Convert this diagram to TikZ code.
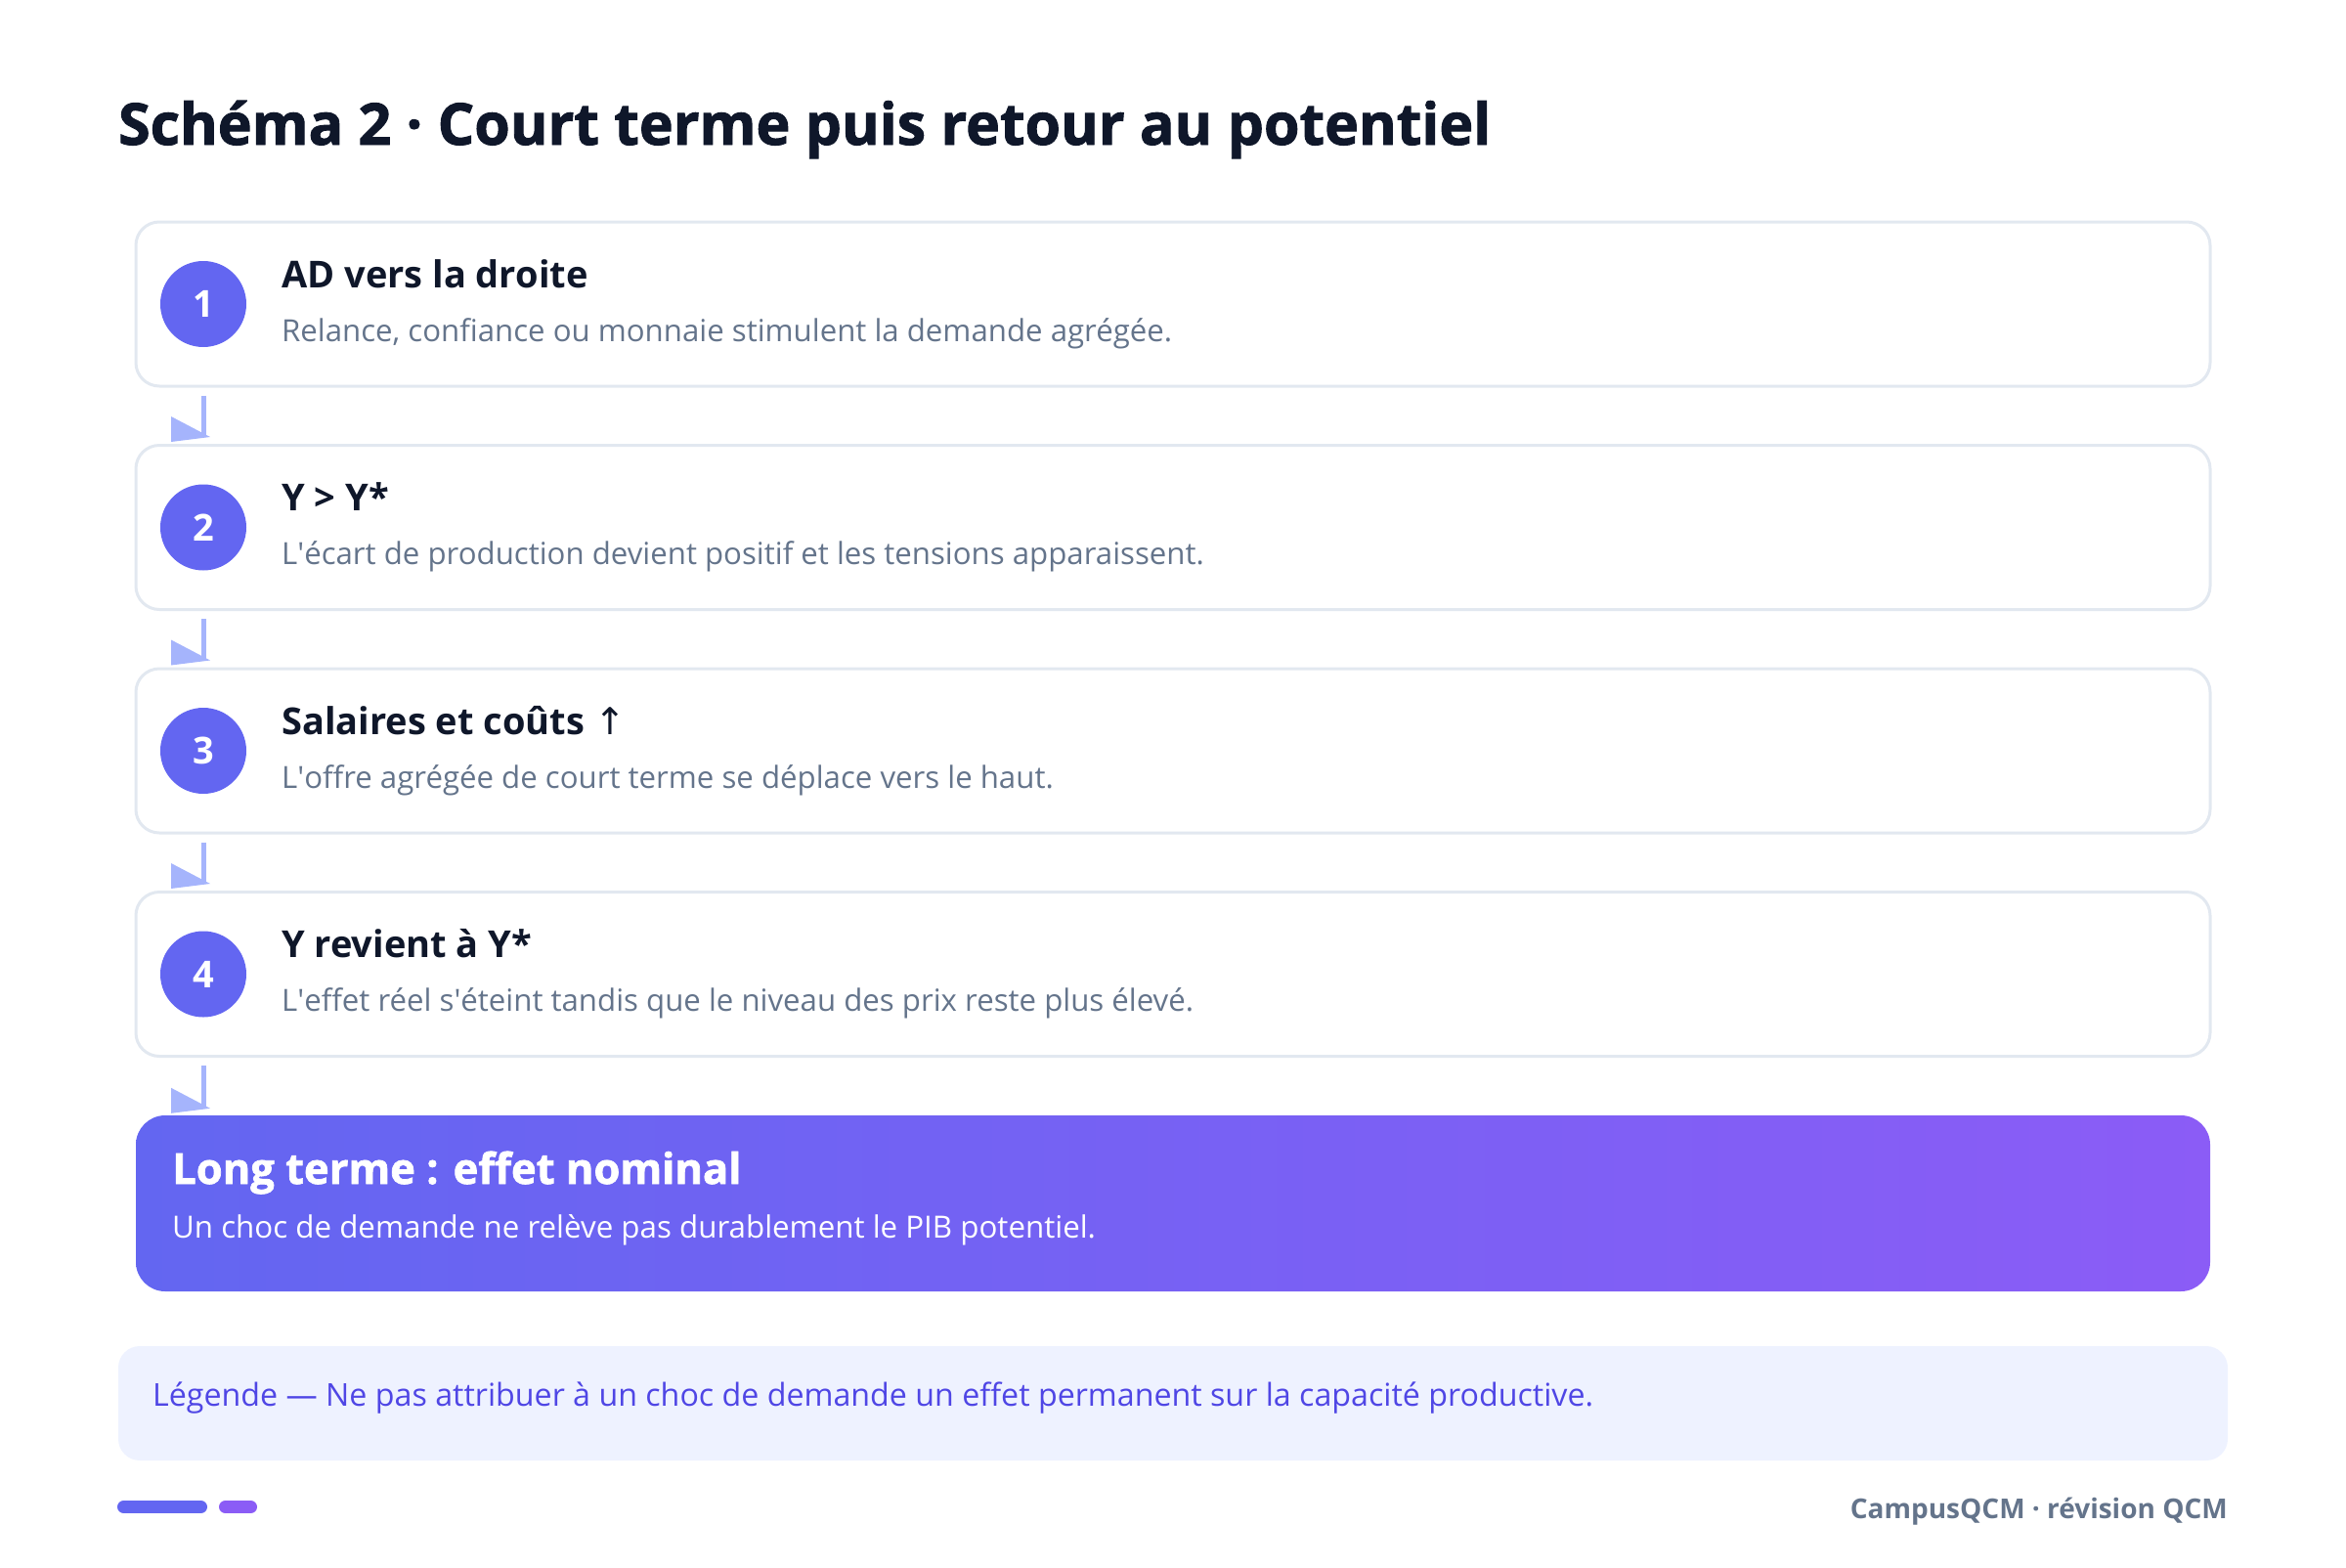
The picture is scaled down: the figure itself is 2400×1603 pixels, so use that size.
\documentclass[tikz,border=0pt]{standalone}
\usepackage{fontspec}
\setmainfont{Open Sans}
\newfontfamily\heavyfont{Open Sans}[BoldFeatures={FakeBold=1.6}]
\newfontfamily\symfont{DejaVu Sans}
\definecolor{ink}{HTML}{0F172A}
\definecolor{muted}{HTML}{64748B}
\definecolor{cardline}{HTML}{E2E8F0}
\definecolor{indigo}{HTML}{6366F1}
\definecolor{violet}{HTML}{8B5CF6}
\definecolor{flowcol}{HTML}{A5B4FC}
\definecolor{legfill}{HTML}{EEF2FF}
\definecolor{legtext}{HTML}{4F46E5}
\begin{document}
\begin{tikzpicture}[x=1pt,y=-1pt,
    card/.style={draw=cardline, line width=3pt, rounded corners=24pt, fill=white,
      minimum width=2122pt, minimum height=168pt, inner sep=0pt},
    num/.style={circle, fill=indigo, minimum size=88pt, inner sep=0pt, text=white,
      font=\fontsize{38}{38}\selectfont\bfseries},
    ttl/.style={anchor=base west, inner sep=0pt, text=ink, font=\fontsize{38}{42}\selectfont\bfseries},
    sub/.style={anchor=base west, inner sep=0pt, text=muted, font=\fontsize{31.2}{36}\selectfont},
    flow/.style={draw=flowcol, line width=5pt}]
    \useasboundingbox (0,0) rectangle (2400,1603);

    \node[anchor=base west, inner sep=0pt, text=ink, font=\fontsize{59}{62}\selectfont\heavyfont\bfseries]
      (title) at (121,148) {Schéma 2 · Court terme puis retour au potentiel};

    % les quatre etapes
    \foreach \i/\y/\head/\txt in {
        1/311/{AD vers la droite}/{Relance, confiance ou monnaie stimulent la demande agrégée.},
        2/539.5/{Y > Y*}/{L\textquotesingle écart de production devient positif et les tensions apparaissent.},
        3/768/{Salaires et coûts {\symfont\mdseries ↑}}/{L\textquotesingle offre agrégée de court terme se déplace vers le haut.},
        4/996.5/{Y revient à Y*}/{L\textquotesingle effet réel s\textquotesingle éteint tandis que le niveau des prix reste plus élevé.}} {
      \node[card] (c\i) at (1200,\y) {};
      \node[num] (n\i) at (208,\y) {\i};
      \node[ttl] (t\i) at (288,\y-17) {\head};
      \node[sub] (s\i) at (288,\y+38) {\txt};
    }

    \node[rounded corners=30pt, left color=indigo, right color=violet, minimum width=2122pt,
      minimum height=180pt, inner sep=0pt] (lt) at (1200,1231) {};
    \node[anchor=base west, inner sep=0pt, text=white, font=\fontsize{43.5}{46}\selectfont\heavyfont\bfseries]
      (ltt) at (176,1211) {Long terme : effet nominal};
    \node[anchor=base west, inner sep=0pt, text=white, font=\fontsize{31.3}{36}\selectfont]
      (lts) at (176,1266) {Un choc de demande ne relève pas durablement le PIB potentiel.};

    % fleches
    \foreach \a/\b in {c1/c2,c2/c3,c3/c4,c4/lt} {
      \draw[flow] ([yshift=-8pt]\a.south -| n1) -- ([yshift=8pt]\b.north -| n1) coordinate (tip);
      \fill[flowcol] ([shift={(-33,-20)}]tip) -- ([shift={(7,1)}]tip) -- ([shift={(-33,6)}]tip) -- cycle;
    }

    \node[fill=legfill, rounded corners=22pt, minimum width=2158pt, minimum height=117pt,
      inner sep=0pt] (leg) at (1200,1435.5) {};
    \node[anchor=base west, inner sep=0pt, text=legtext, font=\fontsize{32.2}{36}\selectfont]
      (legt) at (156,1438) {Légende — Ne pas attribuer à un choc de demande un effet permanent sur la capacité productive.};

    \draw[indigo, line width=13pt, line cap=round] (126.5,1541.5) -- (205.5,1541.5);
    \draw[violet, line width=13pt, line cap=round] (230.5,1541.5) -- (256.5,1541.5);
    \node[anchor=base east, inner sep=0pt, text=muted, font=\fontsize{28}{32}\selectfont\bfseries]
      (foot) at (2279,1553) {CampusQCM · révision QCM};
\end{tikzpicture}
\end{document}
